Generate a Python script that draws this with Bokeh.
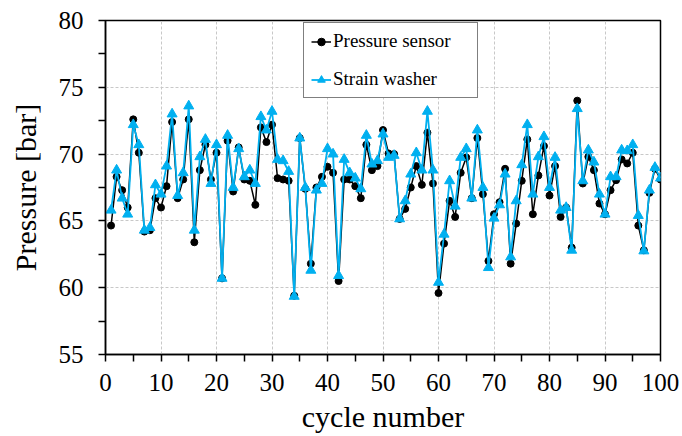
from bokeh.plotting import figure
from bokeh.models import ColumnDataSource, Legend, LegendItem, FixedTicker, Range1d
from bokeh.embed import file_html
from bokeh.resources import INLINE

# cycle index and the two pressure readings per cycle [bar]
cycles = list(range(1, 101))
pressure_sensor = [
    64.65, 68.3, 67.3, 66.0, 72.6, 70.1, 64.2, 64.3, 66.7, 66.0,
    67.6, 72.4, 66.7, 68.1, 72.6, 63.4, 68.8, 70.7, 68.1, 70.1,
    60.7, 71.0, 67.2, 70.5, 68.1, 68.0, 66.2, 72.0, 70.9, 72.2,
    68.2, 68.1, 68.0, 59.4, 71.2, 67.4, 61.8, 67.5, 68.3, 69.05,
    68.6, 60.5, 68.1, 68.1, 67.6, 66.7, 70.7, 68.8, 69.1, 71.8,
    70.05, 70.0, 65.15, 65.9, 67.5, 69.1, 67.7, 71.6, 67.8, 59.6,
    63.3, 66.5, 65.3, 68.6, 69.75, 66.7, 71.2, 67.0, 62.0, 65.5,
    66.4, 68.9, 61.8, 64.8, 68.0, 71.1, 65.5, 68.4, 70.6, 66.9,
    69.1, 65.3, 66.0, 63.0, 74.0, 67.8, 69.8, 68.8, 66.3, 65.5,
    67.3, 68.05, 69.6, 69.3, 70.1, 64.65, 62.8, 67.1, 68.9, 68.1,
]
strain_washer = [
    65.8, 68.8, 66.7, 65.5, 72.2, 70.7, 64.3, 64.5, 67.7, 67.0,
    69.1, 73.0, 66.9, 68.6, 73.6, 64.3, 69.8, 71.1, 67.8, 70.7,
    60.7, 71.4, 67.5, 70.4, 68.3, 68.8, 67.8, 72.8, 71.8, 73.2,
    69.6, 69.5, 68.7, 59.35, 71.2, 67.5, 61.3, 67.3, 67.8, 70.4,
    70.0, 60.9, 69.6, 68.6, 68.2, 67.4, 71.4, 69.25, 69.5, 71.5,
    69.75, 69.9, 65.15, 66.5, 68.5, 70.1, 68.8, 73.2, 68.8, 60.4,
    64.0, 68.0, 66.1, 69.75, 70.4, 66.7, 71.8, 67.5, 61.5, 65.2,
    66.2, 68.5, 62.3, 66.5, 69.2, 72.2, 67.0, 69.8, 71.3, 67.5,
    69.75, 65.8, 66.0, 62.8, 73.4, 68.0, 70.3, 69.4, 67.0, 65.5,
    68.3, 68.3, 70.3, 70.25, 70.7, 65.4, 62.75, 67.3, 69.0, 68.2,
]
x_ticks = [0, 10, 20, 30, 40, 50, 60, 70, 80, 90, 100]
y_ticks = [55, 60, 65, 70, 75, 80]

FONT = "Liberation Serif"
BLUE = "#00B0F0"

src = ColumnDataSource(dict(c=cycles, ps=pressure_sensor, sw=strain_washer))

p = figure(width=682, height=436, output_backend="svg", toolbar_location=None,
           x_range=Range1d(0, 100), y_range=Range1d(55, 80),
           min_border_left=105, min_border_right=22,
           min_border_top=20, min_border_bottom=82)
p.background_fill_color = "white"
p.border_fill_color = "white"
p.outline_line_color = "black"
p.outline_line_width = 1.5

# pressure sensor trace
ps_line = p.line("c", "ps", source=src, line_color="black", line_width=1.5)
ps_pts = p.scatter("c", "ps", source=src, marker="circle", size=7,
                   fill_color="black", line_color="black")
# strain washer trace, drawn on top
sw_line = p.line("c", "sw", source=src, line_color=BLUE, line_width=1.8)
sw_pts = p.scatter("c", "sw", source=src, marker="triangle", size=10,
                   fill_color=BLUE, line_color=BLUE)

for ax, ticks in ((p.xaxis, x_ticks), (p.yaxis, y_ticks)):
    step = ticks[1] - ticks[0]
    ax.ticker = FixedTicker(ticks=ticks,
                            minor_ticks=[t + step / 2 for t in ticks[:-1]])
    ax.axis_line_color = "black"
    ax.axis_line_width = 1.5
    ax.major_tick_line_color = "black"
    ax.major_tick_line_width = 1.5
    ax.minor_tick_line_color = "black"
    ax.minor_tick_line_width = 1.5
    ax.major_tick_in = 0
    ax.major_tick_out = 7
    ax.minor_tick_in = 0
    ax.minor_tick_out = 7
    ax.major_label_text_font = FONT
    ax.major_label_text_font_size = "25px"
    ax.major_label_text_color = "black"
    ax.axis_label_text_font = FONT
    ax.axis_label_text_font_size = "30px"
    ax.axis_label_text_font_style = "normal"
    ax.axis_label_text_color = "black"

p.xaxis.axis_label = "cycle number"
p.yaxis.axis_label = "Pressure [bar]"
p.xaxis.major_label_standoff = 12
p.yaxis.major_label_standoff = 15
p.xaxis.axis_label_standoff = 6
p.yaxis.axis_label_standoff = 14

for g in (p.xgrid, p.ygrid):
    g.grid_line_color = "#c8c8c8"
    g.grid_line_width = 1
    g.grid_line_dash = "3 2"
p.xgrid.ticker = FixedTicker(ticks=x_ticks)
p.ygrid.ticker = FixedTicker(ticks=y_ticks)

legend = Legend(items=[
    LegendItem(label="Pressure sensor", renderers=[ps_line, ps_pts]),
    LegendItem(label="Strain washer", renderers=[sw_line, sw_pts]),
], location=(198, 256))
legend.label_text_font = FONT
legend.label_text_font_size = "19px"
legend.label_text_color = "black"
legend.label_height = 19
legend.glyph_height = 19
legend.glyph_width = 20
legend.label_standoff = 2
legend.label_width = 137
legend.spacing = 16
legend.padding = 7
legend.margin = 0
legend.border_line_color = "black"
legend.border_line_width = 1.5
legend.background_fill_color = "white"
legend.background_fill_alpha = 1
p.add_layout(legend, "center")

open("out.html", "w").write(file_html(p, INLINE))
